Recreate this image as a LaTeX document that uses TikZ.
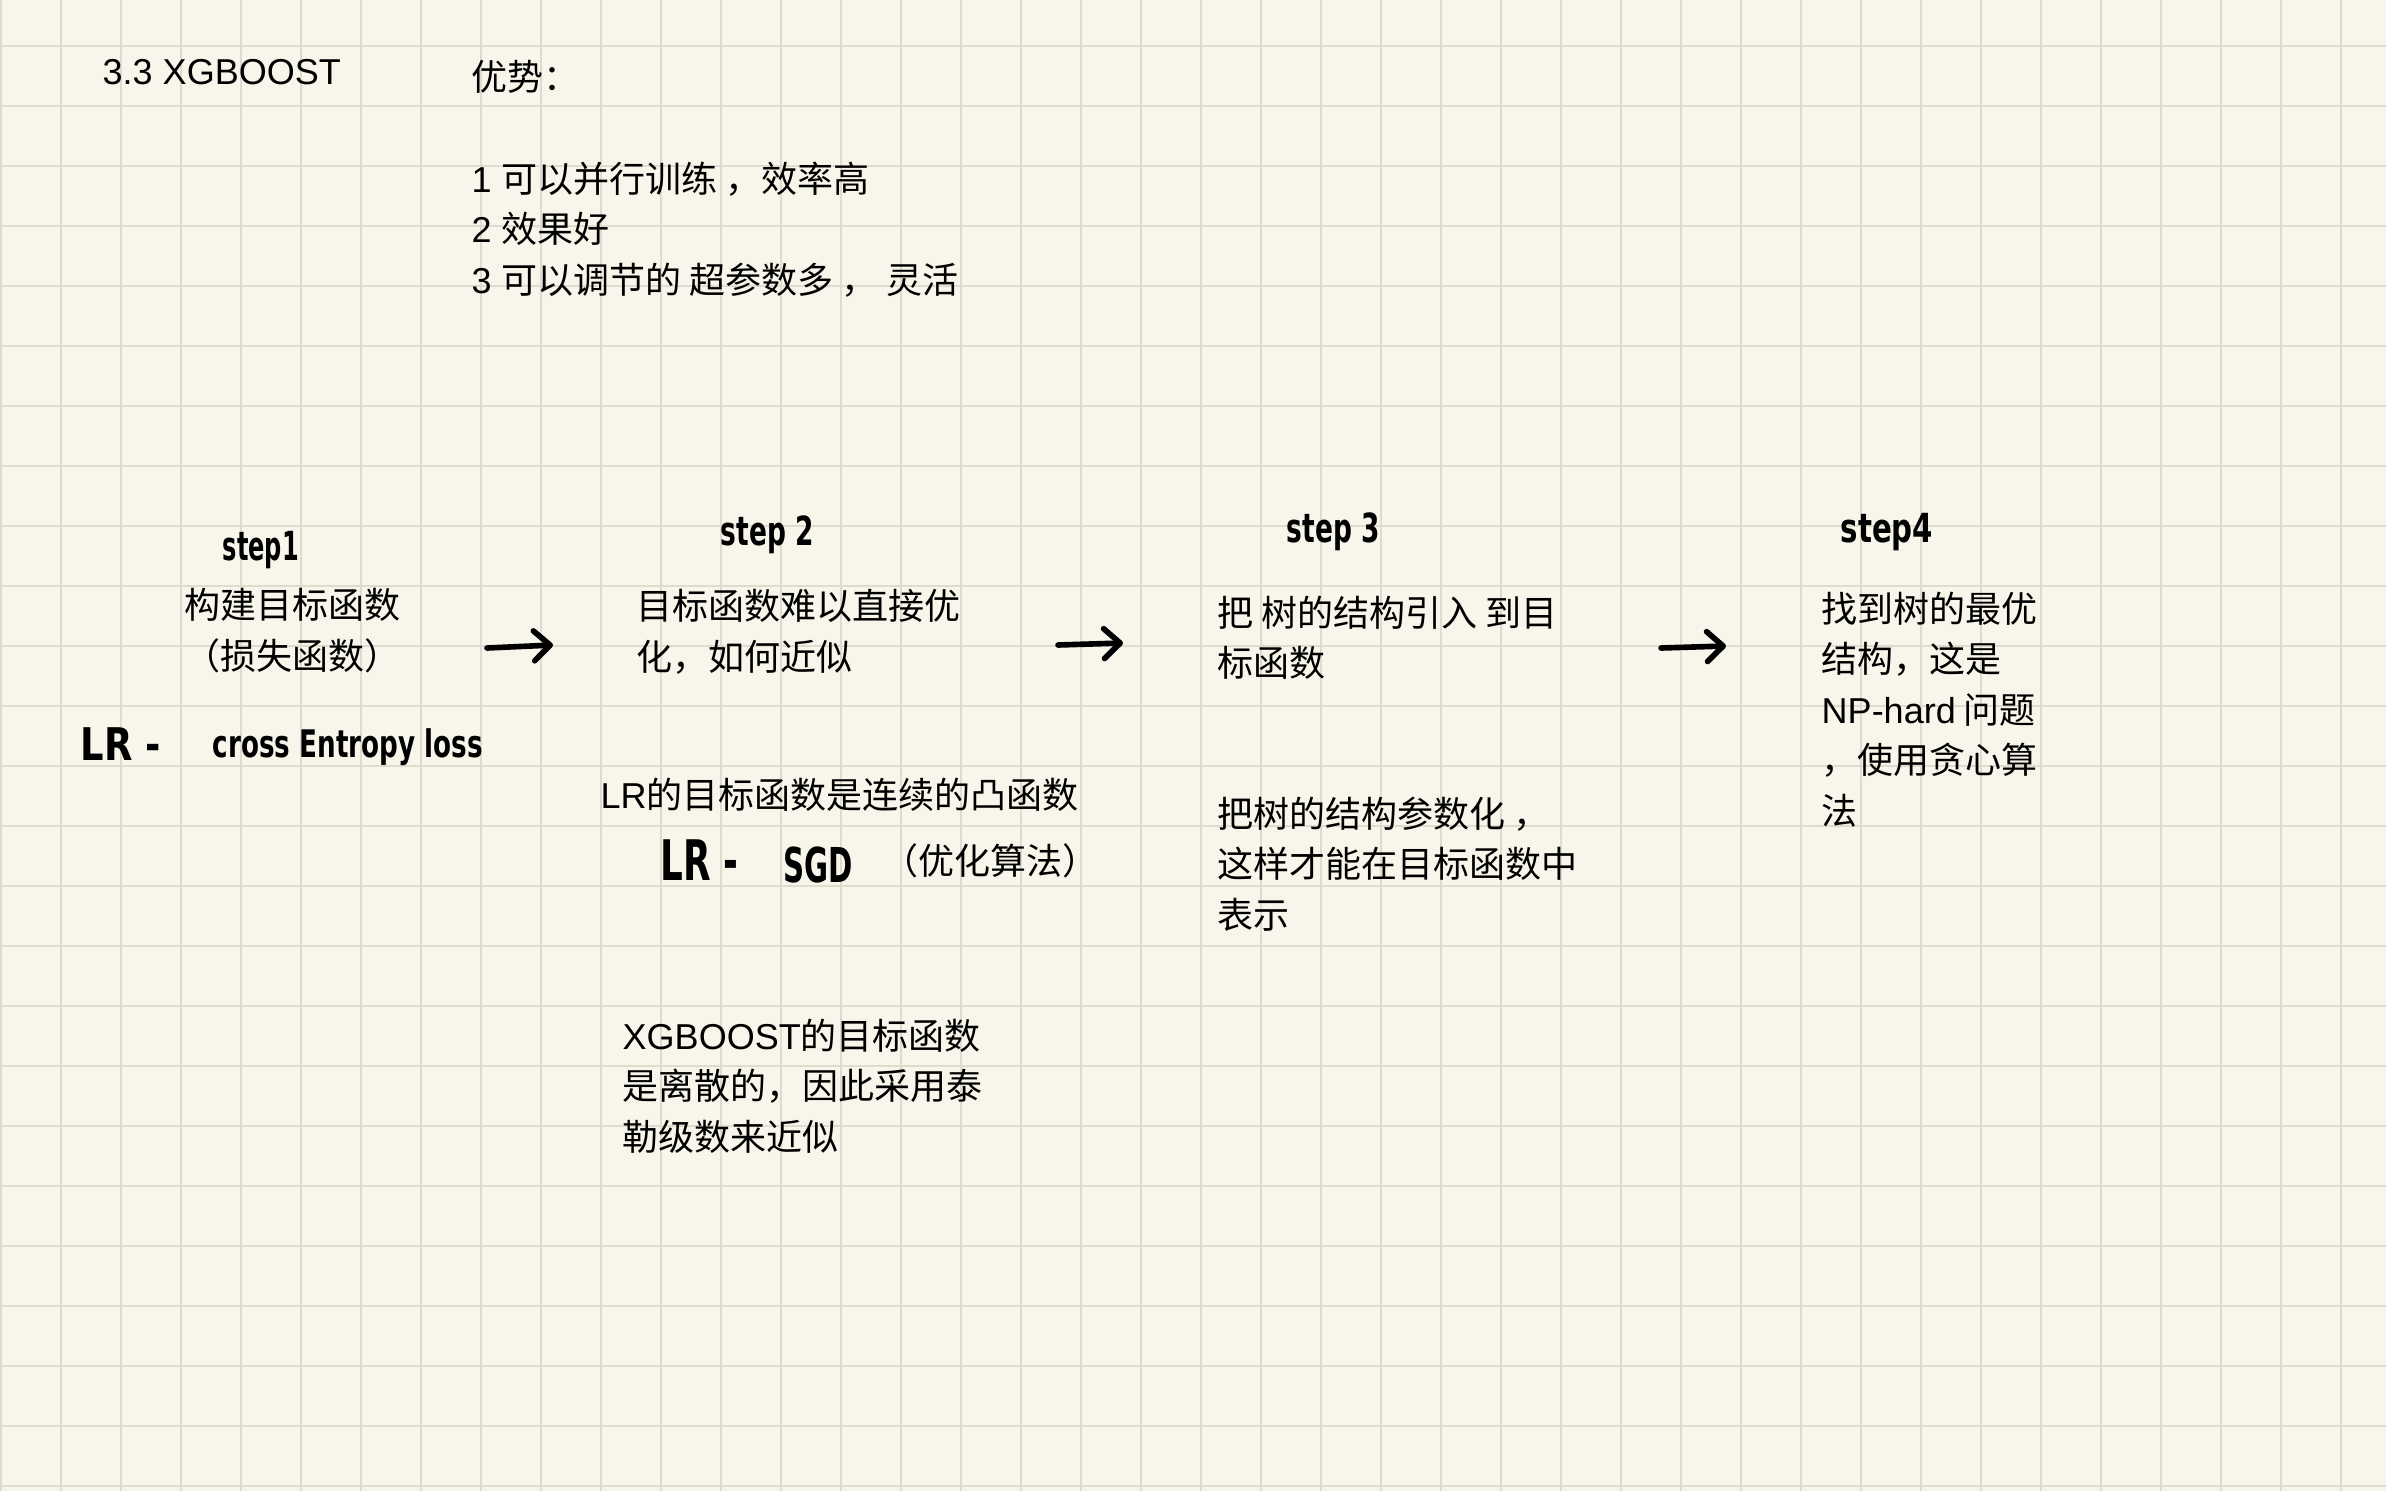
\documentclass[tikz,border=0pt]{standalone}
\usepackage{fontspec}
\setmainfont{Noto Sans CJK SC}
\newfontfamily\latfont{Liberation Sans}
\newfontfamily\handfont{DejaVu Sans}
\usetikzlibrary{arrows.meta}

\definecolor{paper}{RGB}{248,246,234}
\definecolor{gridc}{RGB}{223,220,207}

% body text: 36px em on a 0.01cm unit
\newcommand\bodysize{\fontsize{10.24pt}{14.37pt}\selectfont}
\newcommand\lat[1]{{\latfont #1}}
% marker-style lettering: size, horizontal squeeze, text
\newcommand\handtext[3]{\scalebox{#2}[1]{\fontsize{#1}{#1}\selectfont\handfont\bfseries #3}}

\begin{document}
\begin{tikzpicture}[x=0.01cm, y=-0.01cm,
  txt/.style={inner sep=0pt, anchor=north west, align=left, font=\bodysize, text=black},
  hand/.style={inner sep=0pt, anchor=base west, text=black},
  gridline/.style={draw=gridc, line width=0.8pt},
  harrow/.style={line width=1.6pt, line cap=round, line join=round,
    -{Straight Barb[length=4.6pt, width=8.5pt, round]}},
]
% paper and square grid
\fill[paper] (0,0) rectangle (2386,1491);
\useasboundingbox (0,0) rectangle (2386,1491);
\foreach \i in {0,...,39} \draw[gridline] ({1+60*\i},0) -- ({1+60*\i},1491);
\foreach \j in {0,...,24} \draw[gridline] (0,{46+60*\j}) -- (2386,{46+60*\j});

% heading and advantages
\node[txt] (title) at (102,59) {\lat{3.3 XGBOOST}};
\node[txt] (adv) at (471,60) {优势：\\[14.37pt]
  \lat{1 }可以并行训练 ，效率高\\
  \lat{2 }效果好\\
  \lat{3 }可以调节的 超参数多 ， 灵活};

% step 1
\node[hand] (s1lab) at (222,560) {\handtext{11.4pt}{0.6}{step1}};
\node[txt, align=center] (s1) at (184,588) {构建目标函数\\（损失函数）};
\node[hand] (lr1) at (80,760) {\handtext{12.8pt}{0.82}{LR -}};
\node[hand] (ce) at (212,757) {\handtext{10.8pt}{0.69}{cross Entropy loss}};

% step 2
\node[hand] (s2lab) at (720,545) {\handtext{11.4pt}{0.66}{step 2}};
\node[txt] (s2) at (636,589) {目标函数难以直接优\\化，如何近似};
\node[txt] (convex) at (600,777) {\lat{LR}的目标函数是连续的凸函数};
\node[hand] (lr2) at (660,880) {\handtext{15.9pt}{0.64}{LR -}};
\node[hand] (sgd) at (783,882) {\handtext{13.66pt}{0.61}{SGD}};
\node[txt] (opt) at (882,843) {（优化算法）};
\node[txt] (xgb) at (622,1018) {\lat{XGBOOST}的目标函数\\是离散的，因此采用泰\\勒级数来近似};

% step 3
\node[hand] (s3lab) at (1286,542) {\handtext{11.4pt}{0.66}{step 3}};
\node[txt] (s3) at (1217,595) {把 树的结构引入 到目\\标函数};
\node[txt] (s3b) at (1217,796) {把树的结构参数化 ，\\这样才能在目标函数中\\表示};

% step 4
\node[hand] (s4lab) at (1840,542) {\handtext{11.4pt}{0.73}{step4}};
\node[txt] (s4) at (1821,591) {找到树的最优\\结构，这是\\\lat{NP-hard} 问题\\，使用贪心算\\法};

% arrows between the steps
\coordinate (a1s) at (487,648); \coordinate (a1e) at (553,645);
\coordinate (a2s) at (1058,645); \coordinate (a2e) at (1123,643);
\coordinate (a3s) at (1661,648); \coordinate (a3e) at (1726,646);
\draw[harrow] (a1s) -- (a1e);
\draw[harrow] (a2s) -- (a2e);
\draw[harrow] (a3s) -- (a3e);
\end{tikzpicture}
\end{document}
